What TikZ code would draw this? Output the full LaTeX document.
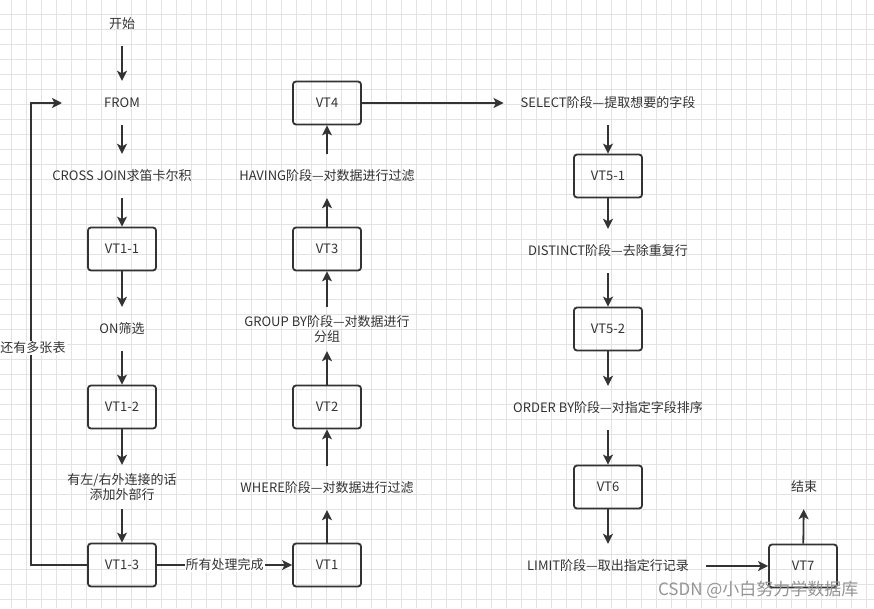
\documentclass[tikz,border=0pt]{standalone}
\usepackage{fontspec}
\setmainfont{Noto Sans CJK SC}
\usetikzlibrary{arrows.meta}
\definecolor{ink}{HTML}{333333}
\definecolor{gridgray}{HTML}{E3E3E3}
\tikzset{
  vtbox/.style={
    draw=ink,
    line width=1.8pt,
    rounded corners=3pt,
    minimum width=68pt,
    minimum height=43pt,
    text=ink
  },
  stage/.style={
    text=ink,
    minimum height=44pt,
    inner xsep=17pt,
    align=center
  },
  flow/.style={
    draw=ink,
    line width=1.8pt,
    -{Stealth[length=10pt,width=10pt,inset=2.5pt]}
  },
  gridline/.style={
    draw=gridgray,
    line width=0.8pt
  },
  every node/.style={font=\fontsize{13}{15.5}\selectfont}
}
\begin{document}
\begin{tikzpicture}[x=1pt, y=-1pt]
  \useasboundingbox (0,0) rectangle (874,608);
  \fill[white] (0,0) rectangle (874,608);
  \foreach \gx in {11.7,26.7,...,874} \draw[gridline] (\gx,0) -- (\gx,608);
  \foreach \gy in {14.3,29.3,...,608} \draw[gridline] (0,\gy) -- (874,\gy);

  \node[stage] (start) at (122,24) {开始};
  \node[stage] (fromstage) at (122,103) {FROM};
  \node[stage] (cross) at (122,176) {CROSS JOIN求笛卡尔积};
  \node[vtbox] (vt11) at (122,249) {VT1-1};
  \node[stage] (onstage) at (122,329) {ON筛选};
  \node[vtbox] (vt12) at (122,407) {VT1-2};
  \node[stage] (outer) at (122,487) {有左/右外连接的话\\添加外部行};
  \node[vtbox] (vt13) at (122,565) {VT1-3};
  \coordinate (loopend) at (62,103);

  \node[vtbox] (vt1) at (327,565) {VT1};
  \node[stage] (where) at (327,488) {WHERE阶段—对数据进行过滤};
  \node[vtbox] (vt2) at (327,407) {VT2};
  \node[stage] (group) at (327,329) {GROUP BY阶段—对数据进行\\分组};
  \node[vtbox] (vt3) at (327,249) {VT3};
  \node[stage] (having) at (327,176) {HAVING阶段—对数据进行过滤};
  \node[vtbox] (vt4) at (327,103) {VT4};

  \node[stage] (select) at (608,103) {SELECT阶段—提取想要的字段};
  \node[vtbox] (vt51) at (608,176) {VT5-1};
  \node[stage] (distinct) at (608,251) {DISTINCT阶段—去除重复行};
  \node[vtbox] (vt52) at (608,329) {VT5-2};
  \node[stage] (order) at (608,408) {ORDER BY阶段—对指定字段排序};
  \node[vtbox] (vt6) at (608,487) {VT6};
  \node[stage] (limit) at (608,566) {LIMIT阶段—取出指定行记录};
  \node[vtbox] (vt7) at (803,566) {VT7};
  \node[stage] (endstage) at (804,487) {结束};

  \draw[flow] (start) -- (fromstage);
  \draw[flow] (fromstage) -- (cross);
  \draw[flow] (cross) -- (vt11);
  \draw[flow] (vt11) -- (onstage);
  \draw[flow] (onstage) -- (vt12);
  \draw[flow] (vt12) -- (outer);
  \draw[flow] (outer) -- (vt13);
  \draw[flow] (vt13.west) -- ++(-56,0) |- (loopend);
  \node[fill=white, text=ink, inner sep=1pt] (moretables) at (33,348) {还有多张表};
  \draw[flow] (vt13) -- node[fill=white, text=ink, inner sep=1pt] (alldone) {所有处理完成} (vt1);

  \draw[flow] (vt1) -- (where);
  \draw[flow] (where) -- (vt2);
  \draw[flow] (vt2) -- (group);
  \draw[flow] (group) -- (vt3);
  \draw[flow] (vt3) -- (having);
  \draw[flow] (having) -- (vt4);
  \draw[flow] (vt4) -- (select);

  \draw[flow] (select) -- (vt51);
  \draw[flow] (vt51) -- (distinct);
  \draw[flow] (distinct) -- (vt52);
  \draw[flow] (vt52) -- (order);
  \draw[flow] (order) -- (vt6);
  \draw[flow] (vt6) -- (limit);
  \draw[flow] (limit) -- (vt7);
  \draw[flow] (vt7) -- (endstage);

  \node[anchor=east, text=black!42, font=\fontsize{17}{20}\selectfont] (mark) at (862,590) {CSDN @小白努力学数据库};
\end{tikzpicture}
\end{document}
